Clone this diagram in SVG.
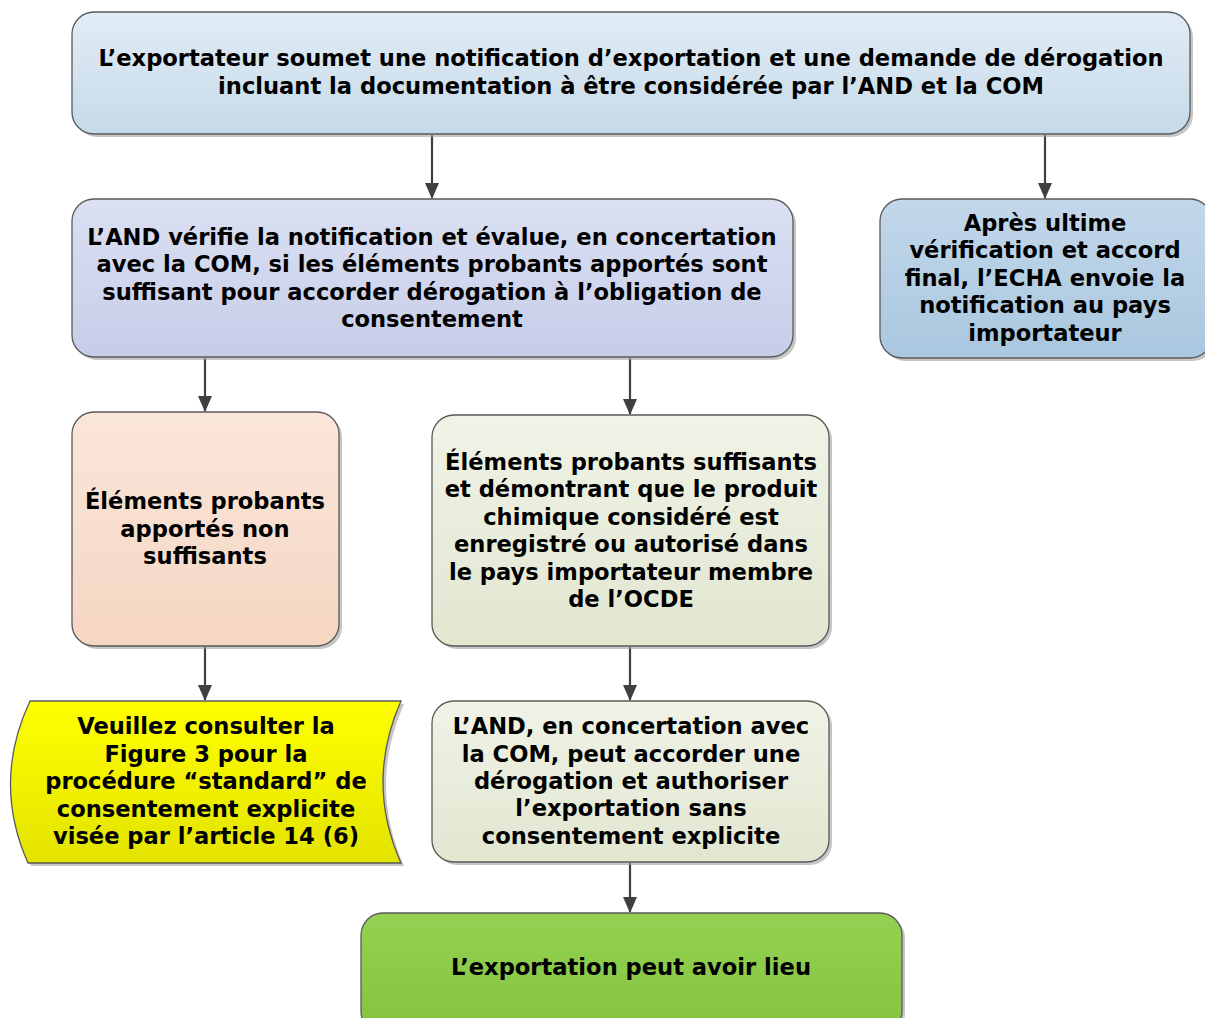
<svg xmlns="http://www.w3.org/2000/svg" width="1205" height="1018" viewBox="0 0 1205 1018">
<style>
.t{font-family:"DejaVu Sans","Verdana",sans-serif;font-weight:bold;font-size:22.6px;fill:#000;text-anchor:middle}
.b{stroke:#5a5a5a;stroke-width:1.3}
.sh{fill:#a0a0a0;opacity:0.6}
.c{stroke:#404040;stroke-width:2.2;fill:none;marker-end:url(#ah)}
</style>
<defs>
<marker id="ah" markerWidth="16" markerHeight="14" refX="15" refY="7" orient="auto" markerUnits="userSpaceOnUse" viewBox="0 0 16 14">
<path d="M0,0 L16,7 L0,14 Z" fill="#404040"/>
</marker>
<linearGradient id="g1" x1="0" y1="0" x2="0" y2="1"><stop offset="0" stop-color="#e1ecf5"/><stop offset="1" stop-color="#c6dae9"/></linearGradient>
<linearGradient id="g2" x1="0" y1="0" x2="0" y2="1"><stop offset="0" stop-color="#dbe0f2"/><stop offset="1" stop-color="#c6cde8"/></linearGradient>
<linearGradient id="g3" x1="0" y1="0" x2="0" y2="1"><stop offset="0" stop-color="#c3d7ea"/><stop offset="1" stop-color="#a9c7df"/></linearGradient>
<linearGradient id="g4" x1="0" y1="0" x2="0" y2="1"><stop offset="0" stop-color="#fae6da"/><stop offset="1" stop-color="#f5d6c2"/></linearGradient>
<linearGradient id="g5" x1="0" y1="0" x2="0" y2="1"><stop offset="0" stop-color="#f0f3e6"/><stop offset="1" stop-color="#e1e6d0"/></linearGradient>
<linearGradient id="g6" x1="0" y1="0" x2="0" y2="1"><stop offset="0" stop-color="#ffff00"/><stop offset="1" stop-color="#e3e300"/></linearGradient>
<linearGradient id="g7" x1="0" y1="0" x2="0" y2="1"><stop offset="0" stop-color="#94d152"/><stop offset="1" stop-color="#84c440"/></linearGradient>
</defs>
<rect width="1205" height="1018" fill="#fff"/>

<g id="connectors">
<line class="c" x1="432" y1="135" x2="432" y2="198"/>
<line class="c" x1="1045" y1="135" x2="1045" y2="198"/>
<line class="c" x1="205" y1="358" x2="205" y2="411"/>
<line class="c" x1="630" y1="358" x2="630" y2="414"/>
<line class="c" x1="205" y1="647" x2="205" y2="700"/>
<line class="c" x1="630" y1="647" x2="630" y2="700"/>
<line class="c" x1="630" y1="863" x2="630" y2="912"/>
</g>

<g id="n1">
<rect class="sh" x="75" y="15" width="1118" height="122" rx="22"/>
<rect class="b" x="72" y="12" width="1118" height="122" rx="22" fill="url(#g1)"/>
<text class="t" x="631" y="66">L’exportateur soumet une notification d’exportation et une demande de dérogation</text>
<text class="t" x="631" y="94">incluant la documentation à être considérée par l’AND et la COM</text>
</g>

<g id="n2">
<rect class="sh" x="75" y="202" width="721" height="158" rx="22"/>
<rect class="b" x="72" y="199" width="721" height="158" rx="22" fill="url(#g2)"/>
<text class="t" x="432" y="245">L’AND vérifie la notification et évalue, en concertation</text>
<text class="t" x="432" y="272">avec la COM, si les éléments probants apportés sont</text>
<text class="t" x="432" y="300">suffisant pour accorder dérogation à l’obligation de</text>
<text class="t" x="432" y="327">consentement</text>
</g>

<g id="n3">
<rect class="sh" x="883" y="202" width="332" height="159" rx="22"/>
<rect class="b" x="880" y="199" width="332" height="159" rx="22" fill="url(#g3)"/>
<text class="t" x="1045" y="231">Après ultime</text>
<text class="t" x="1045" y="258">vérification et accord</text>
<text class="t" x="1045" y="286">final, l’ECHA envoie la</text>
<text class="t" x="1045" y="313">notification au pays</text>
<text class="t" x="1045" y="341">importateur</text>
</g>

<g id="n4">
<rect class="sh" x="75" y="415" width="267" height="234" rx="22"/>
<rect class="b" x="72" y="412" width="267" height="234" rx="22" fill="url(#g4)"/>
<text class="t" x="205" y="509">Éléments probants</text>
<text class="t" x="205" y="537">apportés non</text>
<text class="t" x="205" y="564">suffisants</text>
</g>

<g id="n5">
<rect class="sh" x="435" y="418" width="397" height="231" rx="22"/>
<rect class="b" x="432" y="415" width="397" height="231" rx="22" fill="url(#g5)"/>
<text class="t" x="631" y="470">Éléments probants suffisants</text>
<text class="t" x="631" y="497">et démontrant que le produit</text>
<text class="t" x="631" y="525">chimique considéré est</text>
<text class="t" x="631" y="552">enregistré ou autorisé dans</text>
<text class="t" x="631" y="580">le pays importateur membre</text>
<text class="t" x="631" y="607">de l’OCDE</text>
</g>

<g id="n6">
<path class="sh" d="M33,704 L404,704 Q368,785 404,866 L31,866 Q-5,785 33,704 Z"/>
<path class="b" d="M30,701 L401,701 Q365,782 401,863 L28,863 Q-8,782 30,701 Z" fill="url(#g6)"/>
<text class="t" x="206" y="734">Veuillez consulter la</text>
<text class="t" x="206" y="762">Figure 3 pour la</text>
<text class="t" x="206" y="789">procédure “standard” de</text>
<text class="t" x="206" y="817">consentement explicite</text>
<text class="t" x="206" y="844">visée par l’article 14 (6)</text>
</g>

<g id="n7">
<rect class="sh" x="435" y="704" width="397" height="161" rx="22"/>
<rect class="b" x="432" y="701" width="397" height="161" rx="22" fill="url(#g5)"/>
<text class="t" x="631" y="734">L’AND, en concertation avec</text>
<text class="t" x="631" y="762">la COM, peut accorder une</text>
<text class="t" x="631" y="789">dérogation et authoriser</text>
<text class="t" x="631" y="816">l’exportation sans</text>
<text class="t" x="631" y="844">consentement explicite</text>
</g>

<g id="n8">
<rect class="sh" x="364" y="916" width="541" height="120" rx="22"/>
<rect class="b" x="361" y="913" width="541" height="120" rx="22" fill="url(#g7)"/>
<text class="t" x="631" y="975">L’exportation peut avoir lieu</text>
</g>
</svg>
